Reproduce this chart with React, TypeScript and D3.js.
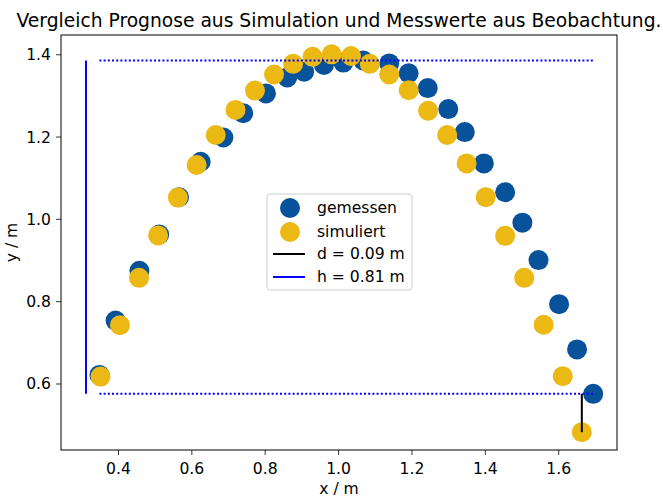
import React from 'react';
import * as d3 from 'd3';

// measured points (blue) and simulated points (yellow)
const measuredX = [0.348, 0.392, 0.457, 0.511, 0.565, 0.624, 0.686, 0.740, 0.802, 0.860, 0.906, 0.960, 1.013, 1.067, 1.138, 1.191, 1.243, 1.299, 1.344, 1.396, 1.454, 1.501, 1.545, 1.601, 1.650, 1.694];
const measuredY = [0.622, 0.754, 0.875, 0.963, 1.054, 1.140, 1.199, 1.258, 1.306, 1.345, 1.359, 1.375, 1.381, 1.386, 1.379, 1.355, 1.319, 1.268, 1.212, 1.136, 1.066, 0.992, 0.901, 0.794, 0.684, 0.576];
const simX = [0.351, 0.404, 0.456, 0.508, 0.562, 0.613, 0.665, 0.719, 0.772, 0.824, 0.876, 0.929, 0.981, 1.034, 1.085, 1.138, 1.191, 1.244, 1.296, 1.349, 1.401, 1.454, 1.506, 1.559, 1.611, 1.663];
const simY = [0.618, 0.743, 0.858, 0.961, 1.053, 1.132, 1.205, 1.266, 1.313, 1.352, 1.378, 1.395, 1.401, 1.397, 1.378, 1.352, 1.314, 1.264, 1.205, 1.136, 1.054, 0.960, 0.858, 0.744, 0.619, 0.483];

// guide lines: height h and offset d
const hLineX = 0.3114;
const hTop = 1.386;
const hBottom = 0.576;
const dLineX = 1.663;
const dTop = 0.576;
const dBottom = 0.483;

const xTicks = [0.4, 0.6, 0.8, 1.0, 1.2, 1.4, 1.6];
const yTicks = [0.6, 0.8, 1.0, 1.2, 1.4];
const legendLabels = ['gemessen', 'simuliert', 'd = 0.09 m', 'h = 0.81 m'];

const W = 663;
const H = 497;
const M = { left: 61, right: 617, top: 35, bottom: 450 };
const BLUE = '#08529c';
const YELLOW = '#ecb813';
const FONT = 'DejaVu Sans, sans-serif';
const FS = 15.6;

const App = () => {
  const x = d3.scaleLinear().domain([0.2433, 1.7589]).range([M.left, M.right]);
  const y = d3.scaleLinear().domain([0.4396, 1.448]).range([M.bottom, M.top]);
  const xMin = d3.min(measuredX);
  const xMax = d3.max(measuredX);

  const lx = 267, ly = 194;
  const rowY = [208, 232, 254, 277];

  return (
    <svg width={W} height={H} style={{ position: 'absolute', left: 0, top: 0 }} fontFamily={FONT}>
      <rect width={W} height={H} fill="white" />
      <text x={(M.left + M.right) / 2} y={27} textAnchor="middle" fontSize={18.7} textLength={645} lengthAdjust="spacing">
        Vergleich Prognose aus Simulation und Messwerte aus Beobachtung.
      </text>

      {/* scatter */}
      {measuredX.map((v, i) => (
        <circle key={'m' + i} cx={x(v)} cy={y(measuredY[i])} r={10} fill={BLUE} />
      ))}
      {simX.map((v, i) => (
        <circle key={'s' + i} cx={x(v)} cy={y(simY[i])} r={10} fill={YELLOW} />
      ))}

      {/* guide lines */}
      <line x1={x(xMin)} x2={x(xMax)} y1={y(hTop)} y2={y(hTop)} stroke="blue" strokeWidth={2} strokeDasharray="2 2.2" />
      <line x1={x(xMin)} x2={x(xMax)} y1={y(hBottom)} y2={y(hBottom)} stroke="blue" strokeWidth={2} strokeDasharray="2 2.2" />
      <line x1={x(hLineX)} x2={x(hLineX)} y1={y(hTop)} y2={y(hBottom)} stroke="blue" strokeWidth={2} />
      <line x1={x(dLineX)} x2={x(dLineX)} y1={y(dTop)} y2={y(dBottom)} stroke="black" strokeWidth={2} />

      {/* axes frame */}
      <rect x={M.left} y={M.top} width={M.right - M.left} height={M.bottom - M.top} fill="none" stroke="black" strokeWidth={1} />

      {xTicks.map(t => (
        <g key={'x' + t}>
          <line x1={x(t)} x2={x(t)} y1={M.bottom} y2={M.bottom + 5} stroke="black" strokeWidth={0.8} />
          <text x={x(t)} y={M.bottom + 24} textAnchor="middle" fontSize={FS}>{t.toFixed(1)}</text>
        </g>
      ))}
      {yTicks.map(t => (
        <g key={'y' + t}>
          <line x1={M.left - 5} x2={M.left} y1={y(t)} y2={y(t)} stroke="black" strokeWidth={0.8} />
          <text x={M.left - 10} y={y(t)} dy="0.35em" textAnchor="end" fontSize={FS}>{t.toFixed(1)}</text>
        </g>
      ))}

      <text x={(M.left + M.right) / 2} y={494} textAnchor="middle" fontSize={FS}>x / m</text>
      <text transform={`translate(17,${(M.top + M.bottom) / 2}) rotate(-90)`} textAnchor="middle" fontSize={FS}>y / m</text>

      {/* legend */}
      <rect x={lx} y={ly} width={145} height={96} rx={3} fill="white" fillOpacity={0.8} stroke="#cccccc" strokeWidth={1} />
      <circle cx={290} cy={rowY[0]} r={10} fill={BLUE} />
      <circle cx={290} cy={rowY[1]} r={10} fill={YELLOW} />
      <line x1={273} x2={305} y1={rowY[2]} y2={rowY[2]} stroke="black" strokeWidth={2} />
      <line x1={273} x2={305} y1={rowY[3]} y2={rowY[3]} stroke="blue" strokeWidth={2} />
      {legendLabels.map((l, i) => (
        <text key={l} x={317} y={rowY[i]} dy="0.35em" fontSize={FS}>{l}</text>
      ))}
    </svg>
  );
};

export default App;
